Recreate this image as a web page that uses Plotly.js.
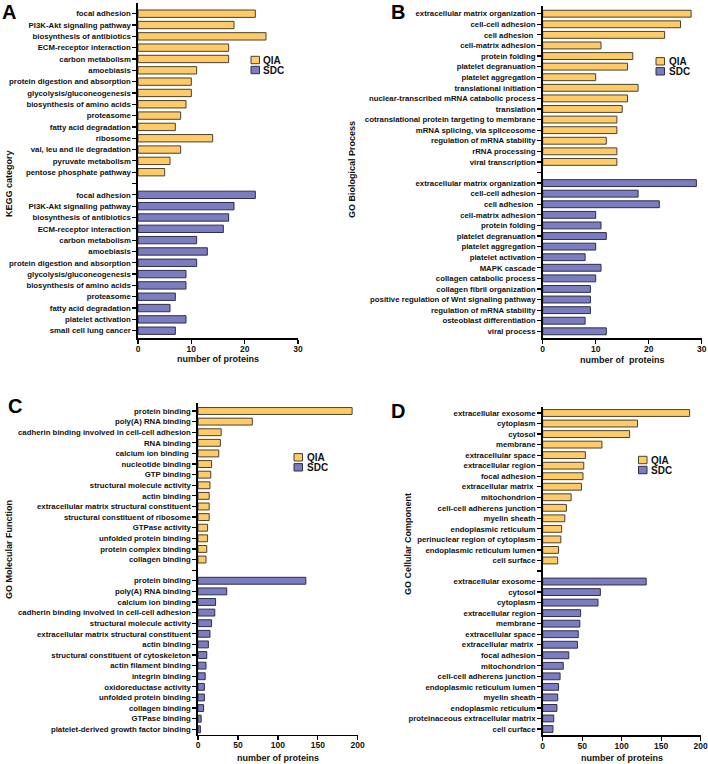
<!DOCTYPE html>
<html>
<head>
<meta charset="utf-8">
<script src="https://cdn.plot.ly/plotly-3.0.1.min.js"></script>
<style>
  html, body { margin: 0; padding: 0; background: #fff; }
  #chart { width: 708px; height: 764px; }
</style>
</head>
<body>
<div id="chart"></div>
<script>
/* ── data: A  KEGG ── */
const keggQIALabels = ['focal adhesion', 'PI3K-Akt signaling pathway', 'biosynthesis of antibiotics', 'ECM-receptor interaction',
  'carbon metabolism', 'amoebiasis', 'protein digestion and absorption', 'glycolysis/gluconeogenesis',
  'biosynthesis of amino acids', 'proteasome', 'fatty acid degradation', 'ribosome',
  'val, leu and ile degradation', 'pyruvate metabolism', 'pentose phosphate pathway'];
const keggQIAValues = [22, 18, 24, 17, 17, 11, 10, 10, 9, 8, 7, 14, 8, 6, 5];
const keggSDCLabels = ['focal adhesion', 'PI3K-Akt signaling pathway', 'biosynthesis of antibiotics', 'ECM-receptor interaction',
  'carbon metabolism', 'amoebiasis', 'protein digestion and absorption', 'glycolysis/gluconeogenesis',
  'biosynthesis of amino acids', 'proteasome', 'fatty acid degradation', 'platelet activation', 'small cell lung cancer'];
const keggSDCValues = [22, 18, 17, 16, 11, 13, 11, 9, 9, 7, 6, 9, 7];

/* ── data: B  GO biological process ── */
const bpQIALabels = ['extracellular matrix organization', 'cell-cell adhesion', 'cell adhesion\u00a0', 'cell-matrix adhesion',
  'protein folding', 'platelet degranuation', 'platelet aggregation', 'translational initiation',
  'nuclear-transcribed mRNA catabolic process', 'translation', 'cotranslational protein targeting to membrane',
  'mRNA splicing, via spliceosome', 'regulation of mRNA stability', 'rRNA processing', 'viral transcription'];
const bpQIAValues = [28, 26, 23, 11, 17, 16, 10, 18, 16, 15, 14, 14, 12, 14, 14];
const bpSDCLabels = ['extracellular matrix organization', 'cell-cell adhesion', 'cell adhesion\u00a0', 'cell-matrix adhesion',
  'protein folding', 'platelet degranuation', 'platelet aggregation', 'platelet activation', 'MAPK cascade',
  'collagen catabolic process', 'collagen fibril organization', 'positive regulation of Wnt signaling pathway',
  'regulation of mRNA stability', 'osteoblast differentiation', 'viral process'];
const bpSDCValues = [29, 18, 22, 10, 11, 12, 10, 8, 11, 10, 9, 9, 9, 8, 12];

/* ── data: C  GO molecular function ── */
const mfQIALabels = ['protein binding', 'poly(A) RNA binding', 'cadherin binding involved in cell-cell adhesion', 'RNA binding',
  'calcium ion binding\u00a0', 'nucleotide binding', 'GTP binding', 'structural molecule activity', 'actin binding',
  'extracellular matrix structural constituent', 'structural constituent of ribosome', 'GTPase activity',
  'unfolded protein binding', 'protein complex binding', 'collagen binding'];
const mfQIAValues = [193, 68, 29, 28, 26, 17, 16, 15, 14, 14, 14, 12, 12, 11, 10];
const mfSDCLabels = ['protein binding', 'poly(A) RNA binding', 'calcium ion binding', 'cadherin binding involved in cell-cell adhesion',
  'structural molecule activity', 'extracellular matrix structural constituent', 'actin binding',
  'structural constituent of cytoskeleton', 'actin filament binding', 'integrin binding', 'oxidoreductase activity',
  'unfolded protein binding', 'collagen binding', 'GTPase binding', 'platelet-derived growth factor binding'];
const mfSDCValues = [135, 36, 22, 21, 17, 15, 13, 11, 10, 9, 8, 8, 7, 4, 3];

/* ── data: D  GO cellular component ── */
const ccQIALabels = ['extracellular exosome', 'cytoplasm', 'cytosol', 'membrane', 'extracellular space', 'extracellular region',
  'focal adhesion', 'extracellular matrix\u00a0', 'mitochondrion', 'cell-cell adherens junction', 'myelin sheath',
  'endoplasmic reticulum', 'perinuclear region of cytoplasm', 'endoplasmic reticulum lumen', 'cell surface'];
const ccQIAValues = [186, 120, 110, 75, 54, 52, 51, 49, 36, 30, 28, 24, 23, 20, 19];
const ccSDCLabels = ['extracellular exosome', 'cytosol', 'cytoplasm', 'extracellular region', 'membrane', 'extracellular space',
  'extracellular matrix\u00a0', 'focal adhesion', 'mitochondrion', 'cell-cell adherens junction', 'endoplasmic reticulum lumen',
  'myelin sheath', 'endoplasmic reticulum', 'proteinaceous extracellular matrix', 'cell curface'];
const ccSDCValues = [131, 73, 70, 48, 47, 45, 44, 33, 26, 22, 20, 19, 18, 14, 13];

const groupNames = ['QIA', 'SDC'];

const W = 708, H = 764;
const FONT = 'Liberation Sans, Arial, sans-serif';
const QIA_COLOR = '#FFCB66', SDC_COLOR = '#7C7CC0';
const QIA_EDGE = '#4a4030', SDC_EDGE = '#2e2e48';

// pixel helpers -> paper coords
const px = x => x / W;
const py = y => (H - y) / H;

// frame of each panel in pixels: axis box, first/last row centres, text spots
const panels = [
  { letter: 'A', ytitle: 'KEGG category', xtitle: 'number of proteins', qL: keggQIALabels, qV: keggQIAValues, sL: keggSDCLabels, sV: keggSDCValues,
    x0: 138, x1: 298, xmax: 30, dtick: 10, top: 3, bottom: 338, row0: 13.7, rowN: 330.7,
    letterPos: [9, 12], ytPos: [9, 184], xtPos: [218, 359], leg: { box: 251, text: 261, y: 60 } },
  { letter: 'B', ytitle: 'GO Biological Process', xtitle: 'number of  proteins', qL: bpQIALabels, qV: bpQIAValues, sL: bpSDCLabels, sV: bpSDCValues,
    x0: 542.7, x1: 701.7, xmax: 30, dtick: 10, top: 6, bottom: 338.3, row0: 13.7, rowN: 331.3,
    letterPos: [398, 12], ytPos: [352, 170], xtPos: [622, 360], leg: { box: 656, text: 666.5, y: 61.3 } },
  { letter: 'C', ytitle: 'GO Molecular Function', xtitle: 'number of proteins', qL: mfQIALabels, qV: mfQIAValues, sL: mfSDCLabels, sV: mfSDCValues,
    x0: 198, x1: 357.7, xmax: 200, dtick: 50, top: 403, bottom: 734.5, row0: 411, rowN: 729.3,
    letterPos: [15, 406], ytPos: [9, 550], xtPos: [278, 758], leg: { box: 294, text: 304.5, y: 457.3 } },
  { letter: 'D', ytitle: 'GO Cellular Component', xtitle: 'number of proteins', qL: ccQIALabels, qV: ccQIAValues, sL: ccSDCLabels, sV: ccSDCValues,
    x0: 542.7, x1: 700.7, xmax: 200, dtick: 50, top: 406.7, bottom: 735, row0: 413, rowN: 729,
    letterPos: [398, 411], ytPos: [408, 544], xtPos: [622, 758], leg: { box: 638.5, text: 649, y: 460 } }
];

const traces = [];
const layout = {
  width: W, height: H,
  margin: { l: 0, r: 0, t: 0, b: 0 },
  paper_bgcolor: '#fff', plot_bgcolor: 'rgba(0,0,0,0)',
  font: { family: FONT, color: '#111' },
  bargap: 0,
  showlegend: false,
  annotations: [],
  shapes: []
};

const textNote = (text, x, y, size, extra) => ({
  text, x: px(x), y: py(y), xref: 'paper', yref: 'paper', showarrow: false,
  xanchor: 'center', yanchor: 'middle',
  font: { family: FONT, size, weight: 'bold', color: '#111' }, ...extra
});

panels.forEach((p, k) => {
  const n = k === 0 ? '' : String(k + 1);
  const qPos = p.qL.map((_, i) => i);
  const gap = p.qL.length;
  const sPos = p.sL.map((_, i) => gap + 1 + i);
  const nRows = gap + 1 + p.sL.length;
  const spacing = (p.rowN - p.row0) / (nRows - 1);

  const common = {
    type: 'bar', orientation: 'h', width: 0.65,
    xaxis: 'x' + n, yaxis: 'y' + n, hoverinfo: 'x+y'
  };
  traces.push({ ...common, name: groupNames[0], x: p.qV, y: qPos, marker: { color: QIA_COLOR, line: { color: QIA_EDGE, width: 1 } } });
  traces.push({ ...common, name: groupNames[1], x: p.sV, y: sPos, marker: { color: SDC_COLOR, line: { color: SDC_EDGE, width: 1 } } });

  const tickvals = Array.from({ length: nRows }, (_, i) => i);
  const ticktext = [...p.qL, '', ...p.sL];

  layout['xaxis' + n] = {
    domain: [px(p.x0), px(p.x1)], anchor: 'y' + n,
    range: [0, p.xmax], dtick: p.dtick, tick0: 0,
    showline: true, linecolor: '#000', linewidth: 1.6,
    ticks: 'outside', ticklen: 4, tickwidth: 1.4, tickcolor: '#000',
    ticklabelstandoff: -2, ticklabeloverflow: 'allow',
    showgrid: false, zeroline: false,
    tickfont: { family: FONT, size: 8.5, weight: 'bold', color: '#111' }
  };
  layout['yaxis' + n] = {
    domain: [py(p.bottom), py(p.top)], anchor: 'x' + n,
    range: [(p.bottom - p.row0) / spacing, (p.top - p.row0) / spacing],
    tickvals, ticktext,
    showline: true, linecolor: '#000', linewidth: 1.6,
    ticks: 'outside', ticklen: 4, tickwidth: 1.2, tickcolor: '#000',
    showgrid: false, zeroline: false,
    tickfont: { family: FONT, size: 7.8, weight: 'bold', color: '#111' }
  };

  // small legend: swatch + name, one row per group
  [[QIA_COLOR, QIA_EDGE], [SDC_COLOR, SDC_EDGE]].forEach(([fill, edge], g) => {
    const yc = p.leg.y + g * 10;
    layout.shapes.push({
      type: 'rect', xref: 'paper', yref: 'paper',
      x0: px(p.leg.box), x1: px(p.leg.box + 8.5), y0: py(yc + 3.7), y1: py(yc - 3.7),
      fillcolor: fill, line: { color: edge, width: 1 }
    });
    layout.annotations.push(textNote(groupNames[g], p.leg.text, yc, 10, { xanchor: 'left' }));
  });

  layout.annotations.push(
    textNote(p.letter, p.letterPos[0], p.letterPos[1], 20, { font: { family: FONT, size: 20, weight: 'bold', color: '#000' } }),
    textNote(p.ytitle, p.ytPos[0], p.ytPos[1], 9, { textangle: -90 }),
    textNote(p.xtitle.replace(/  /g, ' \u00a0'), p.xtPos[0], p.xtPos[1], 9)
  );
});

Plotly.newPlot('chart', traces, layout, { displayModeBar: false, staticPlot: true });
</script>
</body>
</html>
